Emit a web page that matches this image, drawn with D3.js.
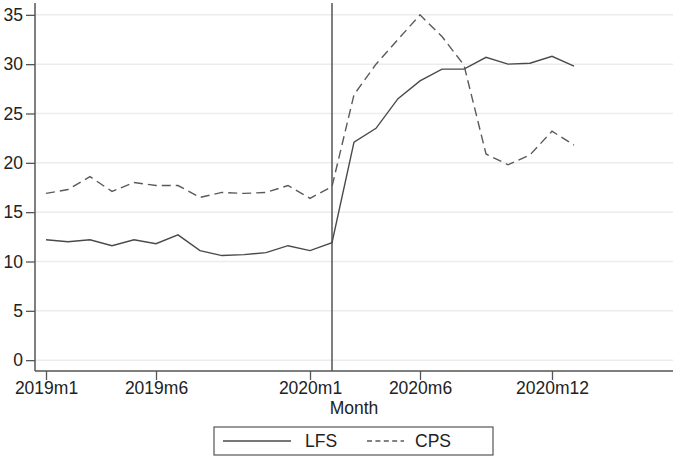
<!DOCTYPE html>
<html>
<head>
<meta charset="utf-8">
<script src="https://cdn.jsdelivr.net/npm/d3@7"></script>
<style>
  body { margin: 0; background: #fff; }
  text { font-family: "Liberation Sans", Arial, Helvetica, sans-serif; fill: #222; }
</style>
</head>
<body>
<svg id="chart" width="679" height="463"></svg>
<script>
// months from 2019m1 to 2021m1
var months = d3.range(25).map(function (i) {
    return (2019 + Math.floor(i / 12)) + "m" + (i % 12 + 1);
});
var lfs = [12.2, 12.0, 12.2, 11.6, 12.2, 11.8, 12.7, 11.1, 10.6, 10.7, 10.9, 11.6, 11.1,
           11.9, 22.1, 23.5, 26.5, 28.3, 29.5, 29.5, 30.7, 30.0, 30.1, 30.8, 29.8];
var cps = [16.9, 17.3, 18.6, 17.1, 18.0, 17.7, 17.7, 16.5, 17.0, 16.9, 17.0, 17.7, 16.4,
           17.6, 26.9, 30.0, 32.5, 35.0, 32.8, 29.9, 20.9, 19.8, 20.8, 23.2, 21.8];
var yTicks = [0, 5, 10, 15, 20, 25, 30, 35];
var xTicks = [0, 5, 12, 17, 23]; // 2019m1, 2019m6, 2020m1, 2020m6, 2020m12
var eventMonth = 13; // 2020m2

var svg = d3.select("#chart");
var pLeft = 35, pRight = 673, pTop = 3, pBottom = 371;
var fs = "17.5px";

var x = d3.scaleLinear().domain([-0.5, 28.5]).range([pLeft, pRight]);
var y = d3.scaleLinear().domain([-1.1, 36.2]).range([pBottom, pTop]);

// grid
svg.append("g").selectAll("line").data(yTicks).enter().append("line")
    .attr("x1", pLeft).attr("x2", pRight)
    .attr("y1", function (d) { return y(d); }).attr("y2", function (d) { return y(d); })
    .attr("stroke", "#ececec").attr("stroke-width", 1.5);

// axes
var yAxis = svg.append("g").attr("transform", "translate(" + pLeft + ",0)")
    .call(d3.axisLeft(y).tickValues(yTicks).tickSize(9).tickPadding(3));
var xAxis = svg.append("g").attr("transform", "translate(0," + pBottom + ")")
    .call(d3.axisBottom(x).tickValues(xTicks).tickSize(9).tickPadding(2)
        .tickFormat(function (d) { return months[d]; }));
[yAxis, xAxis].forEach(function (g) {
    g.select(".domain").attr("stroke", "#555").attr("stroke-width", 1.5);
    g.selectAll(".tick line").attr("stroke", "#555").attr("stroke-width", 1.3);
    g.selectAll("text").style("font-size", fs).attr("fill", "#222");
});
yAxis.select(".domain").attr("d", "M0," + pTop + "V" + pBottom);
xAxis.select(".domain").attr("d", "M" + pLeft + ",0H" + pRight);

// event line
svg.append("line")
    .attr("x1", x(eventMonth)).attr("x2", x(eventMonth))
    .attr("y1", pTop).attr("y2", pBottom)
    .attr("stroke", "#555").attr("stroke-width", 1.5);

var line = d3.line()
    .x(function (d, i) { return x(i); })
    .y(function (d) { return y(d); });

svg.append("path").datum(lfs).attr("d", line)
    .attr("fill", "none").attr("stroke", "#4a4a4a").attr("stroke-width", 1.4);
svg.append("path").datum(cps).attr("d", line)
    .attr("fill", "none").attr("stroke", "#5a5a5a").attr("stroke-width", 1.4)
    .attr("stroke-dasharray", "9,5");

// axis title
svg.append("text").attr("x", (pLeft + pRight) / 2).attr("y", 414)
    .attr("text-anchor", "middle").style("font-size", fs).text("Month");

// legend
var lg = svg.append("g");
lg.append("rect").attr("x", 214).attr("y", 427).attr("width", 279).attr("height", 28)
    .attr("fill", "#fff").attr("stroke", "#555").attr("stroke-width", 1.2);
lg.append("line").attr("x1", 223).attr("x2", 291).attr("y1", 441).attr("y2", 441)
    .attr("stroke", "#4a4a4a").attr("stroke-width", 1.4);
lg.append("text").attr("x", 305).attr("y", 447).style("font-size", fs).text("LFS");
lg.append("line").attr("x1", 367).attr("x2", 404).attr("y1", 441).attr("y2", 441)
    .attr("stroke", "#5a5a5a").attr("stroke-width", 1.4).attr("stroke-dasharray", "5,3.4");
lg.append("text").attr("x", 415).attr("y", 447).style("font-size", fs).text("CPS");
</script>
</body>
</html>
